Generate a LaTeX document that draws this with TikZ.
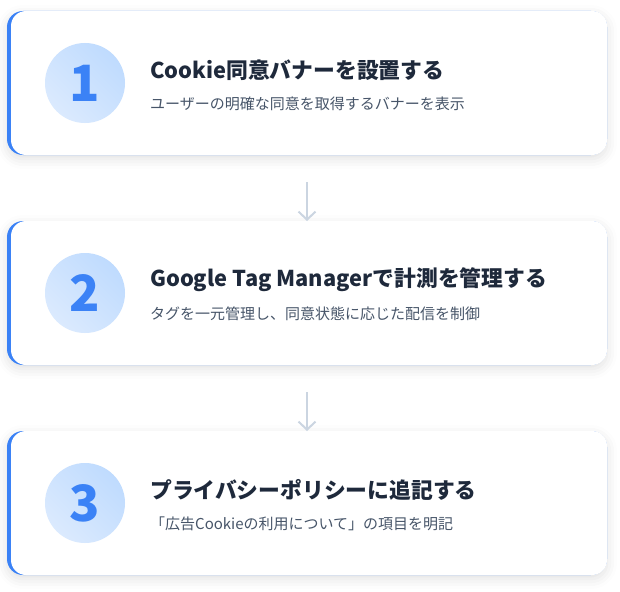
\documentclass[tikz,border=0pt]{standalone}
\usepackage{fontspec}
\setmainfont{Noto Sans CJK JP}
\usetikzlibrary{shadows.blur}
\usetikzlibrary{arrows.meta}
\definecolor{accent}{HTML}{3B82F6}
\definecolor{circA}{HTML}{DBEAFE}
\definecolor{circB}{HTML}{BFDBFE}
\definecolor{titlec}{HTML}{1E293B}
\definecolor{subc}{HTML}{475569}
\definecolor{arrowc}{HTML}{CBD5E1}
\tikzset{
  cardshadow/.style={blur shadow={shadow xshift=0pt,shadow yshift=-4pt,shadow blur radius=10pt,shadow opacity=12}},
  numcirc/.style={circle,minimum size=80pt,inner sep=0pt,shading=axis,top color=circA,bottom color=circB,shading angle=135,text=accent,font=\fontsize{50}{50}\selectfont\bfseries},
  titletext/.style={anchor=west,inner sep=0pt,text=titlec,font=\fontsize{21.8}{26}\selectfont\bfseries},
  subtext/.style={anchor=west,inner sep=0pt,text=subc,font=\fontsize{15}{18}\selectfont},
  flowarrow/.style={draw=arrowc,line width=2pt,-{Straight Barb[length=8pt,width=17pt,line width=2pt]}},
}
\begin{document}
\begin{tikzpicture}[x=1pt,y=-1pt]
\useasboundingbox (0,0) rectangle (620,591);
\foreach \i/\top/\n/\t/\s in {
  1/11/1/{Cookie同意バナーを設置する}/{ユーザーの明確な同意を取得するバナーを表示},
  2/221/2/{Google Tag Managerで計測を管理する}/{タグを一元管理し、同意状態に応じた配信を制御},
  3/431/3/{プライバシーポリシーに追記する}/{「広告Cookieの利用について」の項目を明記}}{
  \fill[accent,rounded corners=16pt,cardshadow] (7,\top) rectangle (607,\top+144);
  \fill[white,rounded corners=15pt] (11,\top) rectangle (607,\top+144);
  \node[numcirc] (c\i) at (85,\top+72) {\n};
  \node[titletext] (t\i) at (150,\top+59) {\t};
  \node[subtext] (s\i) at (150,\top+93) {\s};
  \coordinate (top\i) at (307,\top);
  \coordinate (bot\i) at (307,\top+144);
}
\coordinate (a1) at (307,182);
\coordinate (a2) at (307,392);
\draw[flowarrow] (a1) -- (top2);
\draw[flowarrow] (a2) -- (top3);
\end{tikzpicture}
\end{document}
